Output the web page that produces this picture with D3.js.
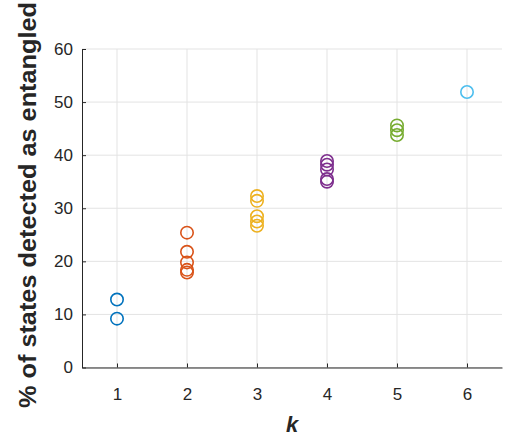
<!DOCTYPE html>
<html><head><meta charset="utf-8">
<script src="https://cdn.jsdelivr.net/npm/d3@7"></script>
<style>html,body{margin:0;padding:0;background:#fff;}</style>
</head><body>
<svg id="c" width="507" height="441"></svg>
<script>
const kValues = [1,2,3,4,5,6];
const seriesColors = ["#0072BD","#D95319","#EDB120","#7E2F8E","#77AC30","#4DBEEE"];
const k1 = [12.8, 9.2];
const k2 = [25.4, 21.8, 19.8, 18.4, 17.9];
const k3 = [32.3, 31.4, 28.5, 27.5, 26.7];
const k4 = [38.9, 38.2, 37.3, 35.5, 35.0];
const k5 = [45.6, 44.7, 43.8];
const k6 = [51.9];
const seriesValues = [k1,k2,k3,k4,k5,k6];
const xTicks = [1,2,3,4,5,6];
const yTicks = [0,10,20,30,40,50,60];

const svg = d3.select("#c");
const L=82, R=502, T=49, B=367.5;
const x = d3.scaleLinear().domain([0.5,6.5]).range([L,R]);
const y = d3.scaleLinear().domain([0,60]).range([B,T]);
const axisColor = "#262626";

// grid
const g = svg.append("g");
g.selectAll(".gx").data(xTicks).enter().append("line")
  .attr("x1",d=>x(d)).attr("x2",d=>x(d)).attr("y1",T).attr("y2",B)
  .attr("stroke","#e3e3e3").attr("stroke-width",1);
g.selectAll(".gy").data(yTicks).enter().append("line")
  .attr("x1",L).attr("x2",R).attr("y1",d=>y(d)).attr("y2",d=>y(d))
  .attr("stroke","#e3e3e3").attr("stroke-width",1);

// axes
const xa = svg.append("g").attr("transform",`translate(0,${B})`)
  .call(d3.axisBottom(x).tickValues(xTicks).tickFormat(d3.format("d")).tickSizeInner(-4).tickSizeOuter(0).tickPadding(20));
const ya = svg.append("g").attr("transform",`translate(${L},0)`)
  .call(d3.axisLeft(y).tickValues(yTicks).tickFormat(d3.format("d")).tickSizeInner(-4).tickSizeOuter(0).tickPadding(9));
[xa,ya].forEach(a=>{
  a.selectAll("path").attr("stroke",axisColor).attr("stroke-width",1);
  a.selectAll("line").attr("stroke",axisColor);
  a.selectAll("text").attr("fill",axisColor).style("font-family","Liberation Sans, Arial, sans-serif").style("font-size","17px");
});

// points
seriesValues.forEach((vals,i)=>{
  svg.append("g").selectAll("circle").data(vals).enter().append("circle")
    .attr("cx",x(kValues[i])).attr("cy",d=>y(d)).attr("r",6.2)
    .attr("fill","none").attr("stroke",seriesColors[i]).attr("stroke-width",1.6);
});

// labels
svg.append("text").attr("x",(L+R)/2).attr("y",432).attr("text-anchor","middle")
  .style("font-family","Liberation Sans, Arial, sans-serif").style("font-size","22px")
  .style("font-weight","bold").style("font-style","italic").attr("fill",axisColor).text("k");
svg.append("text").attr("transform",`translate(36,205) rotate(-90)`).attr("text-anchor","middle")
  .attr("textLength",406).attr("lengthAdjust","spacingAndGlyphs")
  .style("font-family","Liberation Sans, Arial, sans-serif").style("font-size","24px")
  .style("font-weight","bold").attr("fill",axisColor).text("% of states detected as entangled");
</script>
</body></html>
